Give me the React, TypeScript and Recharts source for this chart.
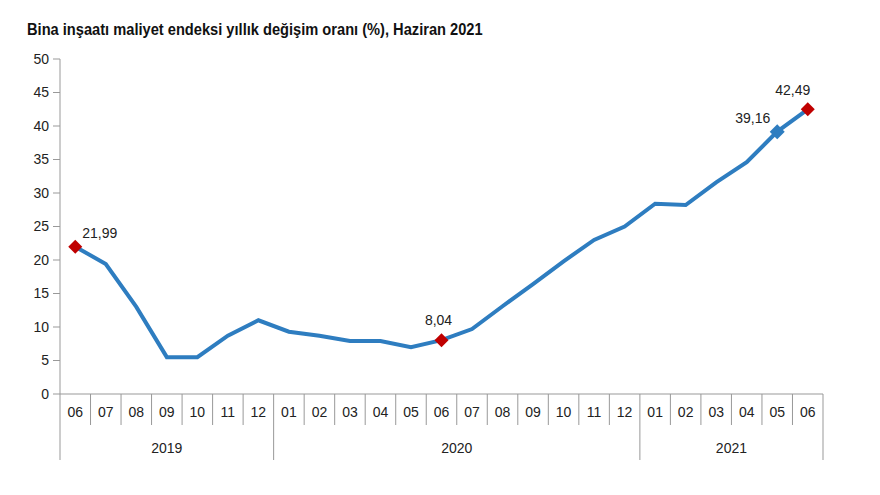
import { LineChart, Line, XAxis, YAxis } from 'recharts';

const months = ['06', '07', '08', '09', '10', '11', '12', '01', '02', '03', '04', '05', '06', '07', '08', '09', '10', '11', '12', '01', '02', '03', '04', '05', '06'];
const years = ['2019', '2019', '2019', '2019', '2019', '2019', '2019', '2020', '2020', '2020', '2020', '2020', '2020', '2020', '2020', '2020', '2020', '2020', '2020', '2021', '2021', '2021', '2021', '2021', '2021'];
const rates = [21.99, 19.4, 13.0, 5.5, 5.5, 8.7, 11.0, 9.3, 8.7, 7.9, 7.9, 7.0, 8.04, 9.7, 13.1, 16.4, 19.8, 23.0, 25.0, 28.4, 28.2, 31.6, 34.6, 39.16, 42.49];
const yTicks = [0, 5, 10, 15, 20, 25, 30, 35, 40, 45, 50];

// highlighted points: index -> marker colour
const redPoints = [0, 12, 24];
const bluePoints = [23];

const data = months.map((m, i) => ({ key: `${years[i]}-${m}`, m, year: years[i], rate: rates[i] }));

const W = 880;
const H = 495;
const LEFT = 60;
const RIGHT = 57;
const BW = (W - LEFT - RIGHT) / months.length;
const FONT = "'Liberation Sans Narrow', 'Arial Narrow', 'Liberation Sans', Arial, sans-serif";
const BLUE = '#2e7dc0';
const RED = '#c00000';

const fmt = (v: number) => v.toFixed(2).replace('.', ',');

function MonthTick(props: any) {
  const { x, y, payload } = props;
  const i = payload.index;
  const isYearStart = i === 0 || years[i] !== years[i - 1];
  const right = x + BW / 2;
  const isYearEnd = i === years.length - 1 || years[i] !== years[i + 1];
  let yearLabel = null;
  if (isYearStart) {
    let len = 0;
    while (i + len < years.length && years[i + len] === years[i]) len++;
    const cx = x - BW / 2 + (len * BW) / 2;
    yearLabel = (
      <text x={cx} y={y + 59} textAnchor="middle" fontSize={14} fill="#222" fontFamily={FONT}>
        {years[i]}
      </text>
    );
  }
  return (
    <g>
      <text x={x} y={y + 23} textAnchor="middle" fontSize={14} fill="#222" fontFamily={FONT}>
        {months[i]}
      </text>
      {i === 0 && <line x1={x - BW / 2} x2={x - BW / 2} y1={y} y2={y + 66} stroke="#999" />}
      <line x1={right} x2={right} y1={y} y2={isYearEnd ? y + 66 : y + 31} stroke="#999" />
      {yearLabel}
    </g>
  );
}

function Marker(props: any) {
  const { cx, cy, index } = props;
  const red = redPoints.includes(index);
  const blue = bluePoints.includes(index);
  if (!red && !blue) return <g key={`d${index}`} />;
  const s = red ? 7 : 7.5;
  const pts = `${cx},${cy - s} ${cx + s},${cy} ${cx},${cy + s} ${cx - s},${cy}`;
  let lx = cx;
  let ly = cy - 17;
  let anchor: 'start' | 'middle' | 'end' = 'middle';
  if (index === 0) {
    lx = cx + 7;
    ly = cy - 9;
    anchor = 'start';
  } else if (index === 12) {
    lx = cx - 3;
    ly = cy - 15;
  } else if (index === 23) {
    lx = cx - 7;
    ly = cy - 9;
    anchor = 'end';
  } else if (index === 24) {
    lx = cx - 15;
    ly = cy - 14;
  }
  return (
    <g key={`d${index}`}>
      <polygon points={pts} fill={red ? RED : BLUE} />
      <text x={lx} y={ly} textAnchor={anchor} fontSize={14} fill="#222" fontFamily={FONT}>
        {fmt(rates[index])}
      </text>
    </g>
  );
}

export default function App() {
  return (
    <div style={{ position: 'absolute', left: 0, top: 0, width: W, height: H, background: '#fff' }}>
      <div
        style={{
          position: 'absolute',
          left: 27,
          top: 21,
          fontFamily: FONT,
          fontWeight: 'bold',
          fontSize: 16,
          color: '#111',
          whiteSpace: 'nowrap',
          transform: 'scaleX(0.915)',
          transformOrigin: 'left top',
        }}
      >
        Bina inşaatı maliyet endeksi yıllık değişim oranı (%), Haziran 2021
      </div>
      <LineChart width={W} height={H} data={data} margin={{ top: 59, right: RIGHT, bottom: 0, left: 0 }}>
        <XAxis
          dataKey="key"
          scale="band"
          interval={0}
          tickLine={false}
          tickSize={0}
          tickMargin={0}
          stroke="#999"
          tick={<MonthTick />}
          height={101}
        />
        <YAxis
          domain={[0, 50]}
          ticks={yTicks}
          width={LEFT}
          tickSize={7}
          tickMargin={4}
          stroke="#999"
          tick={{ fontSize: 14, fill: '#222', fontFamily: FONT }}
          interval={0}
        />
        <Line
          dataKey="rate"
          stroke={BLUE}
          strokeWidth={4}
          dot={Marker}
          activeDot={false}
          isAnimationActive={false}
        />
      </LineChart>
    </div>
  );
}
